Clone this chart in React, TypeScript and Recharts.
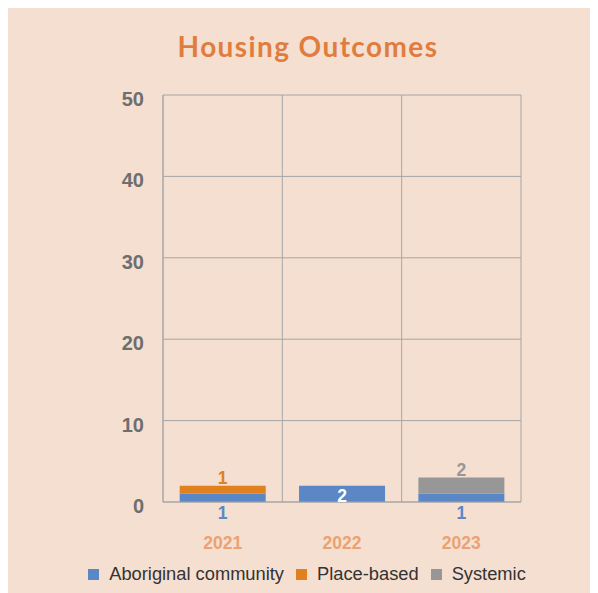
import { Bar, BarChart, CartesianGrid, LabelList, Legend, XAxis, YAxis } from "recharts"

const years = ["2021", "2022", "2023"]
const aboriginal = [1, 2, 1]
const placeBased = [1, 0, 0]
const systemic = [0, 0, 2]
const yTicks = [0, 10, 20, 30, 40, 50]

const BLUE = "#5b87c6"
const ORANGE = "#e0801e"
const GREY = "#979797"
const BG = "#f5dfd0"
const LINE = "#a6a6a6"
const FONT = "'Liberation Sans', Arial, sans-serif"

const data = years.map((year, i) => ({
  year,
  aboriginal: aboriginal[i],
  placeBased: placeBased[i],
  systemic: systemic[i],
}))

const legendItems = [
  { name: "Aboriginal community", color: BLUE },
  { name: "Place-based", color: ORANGE },
  { name: "Systemic", color: GREY },
]

// blue label sits under the bar, unless the bar is blue only -> white inside
const aboriginalLabel = (props: any) => {
  const { x, y, width, height, value, index } = props
  if (!value) return null
  const alone = !placeBased[index] && !systemic[index]
  const cx = x + width / 2
  if (alone) {
    return (
      <text x={cx} y={y + height - 0.5} textAnchor="middle" fill="#fff" fontFamily={FONT} fontWeight="bold" fontSize={17.5}>
        {value}
      </text>
    )
  }
  return (
    <text x={cx} y={y + height + 17} textAnchor="middle" fill={BLUE} fontFamily={FONT} fontWeight="bold" fontSize={17.5}>
      {value}
    </text>
  )
}

const topLabel = (color: string) => (props: any) => {
  const { x, y, width, value } = props
  if (!value) return null
  return (
    <text x={x + width / 2} y={y - 2} textAnchor="middle" fill={color} fontFamily={FONT} fontWeight="bold" fontSize={17.5}>
      {value}
    </text>
  )
}

const YTick = ({ x, y, payload }: any) => (
  <text x={x} y={y + 11} textAnchor="end" fill="#6e6e6e" fontFamily={FONT} fontWeight="bold" fontSize={20}>
    {payload.value}
  </text>
)

const XTick = ({ x, y, payload }: any) => (
  <text x={x} y={y + 12.5} textAnchor="middle" fill="#eba272" fontFamily={FONT} fontWeight="bold" fontSize={17.5}>
    {payload.value}
  </text>
)

const LegendContent = () => (
  <div style={{ display: "flex", justifyContent: "center", alignItems: "center", paddingLeft: 8, height: 30, fontFamily: FONT, fontSize: 18.3, color: "#333" }}>
    {legendItems.map((it, i) => (
      <div key={it.name} style={{ display: "flex", alignItems: "center", marginRight: i < legendItems.length - 1 ? 12 : 0 }}>
        <span style={{ width: 11, height: 11, background: it.color, display: "inline-block", marginRight: 10 }} />
        <span>{it.name}</span>
      </div>
    ))}
  </div>
)

export default function App() {
  return (
    <div style={{ position: "relative", width: 590, height: 585, background: BG }}>
      <div
        style={{
          position: "absolute",
          left: 5,
          top: 24,
          width: 590,
          textAlign: "center",
          fontFamily: "Lato, sans-serif",
          fontWeight: "bold",
          fontSize: 28,
          lineHeight: "28px",
          letterSpacing: 1.4,
          color: "#e07d3e",
        }}
      >
        Housing Outcomes
      </div>
      <BarChart width={590} height={585} data={data} margin={{ top: 87, right: 77, left: 0, bottom: 4 }} barCategoryGap="14%">
        <CartesianGrid
          stroke={LINE}
          verticalCoordinatesGenerator={({ offset }: any) => [0, 1, 2, 3].map((k) => offset.left + (offset.width * k) / 3)}
        />
        <XAxis dataKey="year" height={57} tickLine={false} tickSize={0} tickMargin={34} axisLine={{ stroke: LINE }} tick={<XTick />} />
        <YAxis
          type="number"
          domain={[0, 50]}
          ticks={yTicks}
          width={155}
          tickLine={false}
          tickSize={0}
          tickMargin={19}
          axisLine={{ stroke: LINE }}
          tick={<YTick />}
        />
        <Legend verticalAlign="bottom" height={30} wrapperStyle={{ left: 0, width: 590 }} content={<LegendContent />} />
        <Bar dataKey="aboriginal" name="Aboriginal community" stackId="a" fill={BLUE} isAnimationActive={false}>
          <LabelList dataKey="aboriginal" content={aboriginalLabel} />
        </Bar>
        <Bar dataKey="placeBased" name="Place-based" stackId="a" fill={ORANGE} isAnimationActive={false}>
          <LabelList dataKey="placeBased" content={topLabel(ORANGE)} />
        </Bar>
        <Bar dataKey="systemic" name="Systemic" stackId="a" fill={GREY} isAnimationActive={false}>
          <LabelList dataKey="systemic" content={topLabel(GREY)} />
        </Bar>
      </BarChart>
    </div>
  )
}
